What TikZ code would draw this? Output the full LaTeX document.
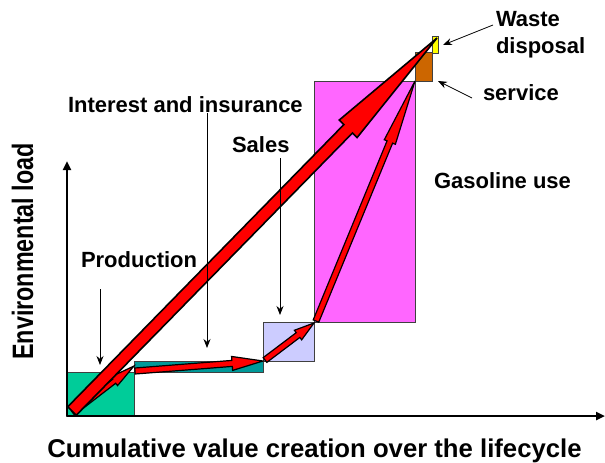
\documentclass[tikz,border=0pt]{standalone}
\usepackage{fontspec}
\setmainfont{Liberation Sans}
\usetikzlibrary{calc,arrows.meta}
\definecolor{prodc}{RGB}{0,204,153}
\definecolor{interc}{RGB}{0,153,153}
\definecolor{salesc}{RGB}{204,204,255}
\definecolor{gasc}{RGB}{255,102,255}
\definecolor{servc}{RGB}{204,102,0}
\definecolor{wastec}{RGB}{255,255,0}
\tikzset{
  stagebox/.style={draw=black!75, line width=0.8pt, inner sep=0pt, outer sep=0pt, anchor=north west},
  redarrow/.style={draw=black, fill=red, line width=1.2pt, line join=miter},
  lbl/.style={font=\fontsize{22}{26}\selectfont\bfseries, inner sep=0pt, outer sep=0pt},
  pointer/.style={draw=black, line width=0.8pt, -{Stealth[length=9pt,width=7pt]}},
  axis/.style={draw=black, line width=2.6pt, -{Triangle[length=9pt,width=8pt]}}
}
% #1 options, #2 start, #3 end, #4 shaft half width, #5 head half width, #6 head length
\newcommand\blockarrow[6][]{%
  \coordinate (ba-h) at ($(#3)!#6!(#2)$);
  \draw[redarrow,#1] ($(#2)!#4!90:(#3)$) -- ($(ba-h)!#4!90:(#3)$) -- ($(ba-h)!#5!90:(#3)$)
    -- (#3) -- ($(ba-h)!#5!-90:(#3)$) -- ($(ba-h)!#4!-90:(#3)$) -- ($(#2)!#4!-90:(#3)$) -- cycle;}
\begin{document}
\begin{tikzpicture}[x=1pt,y=-1pt]
\useasboundingbox (0,0) rectangle (605,463);
% stage boxes
\node[stagebox, fill=prodc, minimum width=68pt, minimum height=44pt] (prod) at (66,372) {};
\node[stagebox, fill=interc, minimum width=129pt, minimum height=11pt] (inter) at (134,361) {};
\node[stagebox, fill=salesc, minimum width=51pt, minimum height=39pt] (sales) at (263,322) {};
\node[stagebox, fill=gasc, minimum width=101pt, minimum height=241pt] (gas) at (314,81) {};
\node[stagebox, fill=servc, minimum width=17pt, minimum height=29pt] (serv) at (415,52) {};
\node[stagebox, fill=wastec, minimum width=6pt, minimum height=17pt] (waste) at (432,36) {};
% axes
\coordinate (O) at (67,416);
\coordinate (ytop) at (67,161);
\coordinate (xend) at (605,416);
\draw[axis] (O) -- (ytop);
\draw[axis] (O) -- (xend);
% red arrows
\coordinate (a1s) at (73,413);  \coordinate (a1e) at (134,366);
\coordinate (a2s) at (135,371); \coordinate (a2e) at (263,361);
\coordinate (a3s) at (265,360); \coordinate (a3e) at (314,323);
\coordinate (a4s) at (316,321); \coordinate (a4e) at (415,81);
\coordinate (bs) at (72,411);   \coordinate (be) at (437,38);
\blockarrow{a1s}{a1e}{2.5pt}{5.5pt}{25pt}
\blockarrow{a2s}{a2e}{3pt}{7pt}{31pt}
\blockarrow{a3s}{a3e}{3pt}{6pt}{20pt}
\blockarrow{a4s}{a4e}{3pt}{6pt}{66pt}
\blockarrow[line width=1.6pt]{bs}{be}{6pt}{12.5pt}{127pt}
% labels
\node[lbl, anchor=base west] (tint) at (68,112) {Interest and insurance};
\node[lbl, anchor=base west] (tsales) at (232,152) {Sales};
\node[lbl, anchor=base west] (tprod) at (81,267) {Production};
\node[lbl, anchor=base west] (tgas) at (434,188) {Gasoline use};
\node[lbl, anchor=base west] (twaste) at (496,27) {Waste};
\node[lbl, anchor=base west] (tdisp) at (496,53) {disposal};
\node[lbl, anchor=base west] (tserv) at (483,100) {service};
\node[inner sep=0pt, anchor=base, font=\fontsize{25.7}{30}\selectfont\bfseries] (xlab) at (314.5,457) {Cumulative value creation over the lifecycle};
\node[inner sep=0pt, anchor=base, rotate=90] (ylab) at (33,251.5) {\scalebox{0.79}[1]{\fontsize{29.5}{34}\selectfont\bfseries Environmental load}};
% pointers
\coordinate (pprod1) at (100,289);  \coordinate (pprod2) at (100,365);
\coordinate (pint1) at (207,113);   \coordinate (pint2) at (207,348);
\coordinate (psal1) at (280,158);   \coordinate (psal2) at (280,315);
\coordinate (pwas1) at (493,25);    \coordinate (pwas2) at (443,45);
\coordinate (pser1) at (472,98);    \coordinate (pser2) at (438,81);
\draw[pointer] (pprod1) -- (pprod2);
\draw[pointer] (pint1) -- (pint2);
\draw[pointer] (psal1) -- (psal2);
\draw[pointer] (pwas1) -- (pwas2);
\draw[pointer] (pser1) -- (pser2);
\end{tikzpicture}
\end{document}
